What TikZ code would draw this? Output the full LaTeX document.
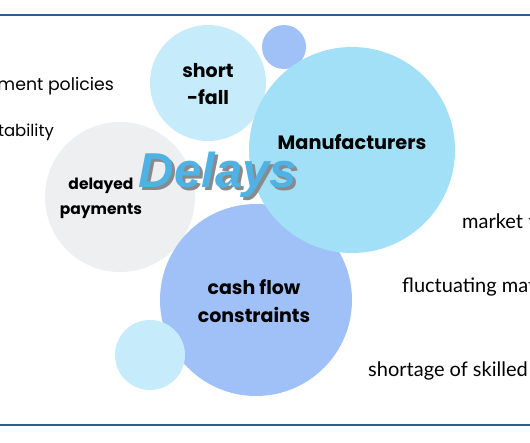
\documentclass[tikz,border=0pt]{standalone}
\usepackage{fontspec}
\setmainfont{Lato}
\newfontfamily\labelfont{Poppins}
\newfontfamily\titlefont{Liberation Sans}
\definecolor{framec}{HTML}{2D5F93}
\definecolor{palec}{HTML}{C6ECFB}
\definecolor{bluec}{HTML}{9FC1F8}
\definecolor{cyanc}{HTML}{A2E0F8}
\definecolor{greyc}{HTML}{EEEFF1}
\definecolor{delc}{HTML}{4FB2E5}
\definecolor{shadc}{HTML}{8A8A8A}
\tikzset{
  bubble/.style={circle, inner sep=0pt, draw=none},
  blabel/.style={font=\labelfont\bfseries, text=black, align=center},
  side/.style={font=\fontsize{20}{24}\selectfont, text=black, inner sep=0pt},
  lside/.style={font=\labelfont\fontsize{16.5}{20}\selectfont, text=black, inner sep=0pt},
  frameline/.style={draw=framec, line width=2.4pt}
}
\begin{document}
\begin{tikzpicture}[x=1pt,y=-1pt]
\useasboundingbox (0,0) rectangle (530,442);
\clip (0,0) rectangle (530,442);
\fill[white] (0,0) rectangle (530,442);
% frame lines
\coordinate (tl) at (0,15); \coordinate (tr) at (530,15);
\coordinate (bl) at (0,425); \coordinate (br) at (530,425);
\draw[frameline] (tl) -- (tr);
\draw[frameline] (bl) -- (br);
% bubbles
\node[bubble, fill=greyc, minimum size=150pt] (grey) at (120,197) {};
\node[bubble, fill=palec, minimum size=116pt] (short) at (208,83) {};
\node[bubble, fill=bluec, minimum size=44pt] (dot) at (284,47) {};
\node[bubble, fill=bluec, minimum size=192pt] (cash) at (256,300) {};
\node[bubble, fill=cyanc, minimum size=206pt] (manu) at (352,150) {};
\node[bubble, fill=palec, minimum size=70pt] (small) at (150,355) {};
% labels
\node[blabel, font=\labelfont\bfseries\fontsize{19}{27}\selectfont] (shortlab) at (208,84) {short\\-fall};
\node[blabel, font=\labelfont\bfseries\fontsize{19.3}{24}\selectfont] (manulab) at (352,142) {Manufacturers};
\node[blabel, font=\labelfont\bfseries\fontsize{15.5}{25}\selectfont] (greylab) at (101,198) {delayed\\payments};
\node[blabel, font=\labelfont\bfseries\fontsize{19}{28}\selectfont] (cashlab) at (254,301) {cash flow\\constraints};
% title with shadow
\node[font=\titlefont\bfseries\itshape\fontsize{49}{50}\selectfont, text=shadc] (delshadow) at (221,178) {Delays};
\node[font=\titlefont\bfseries\itshape\fontsize{49}{50}\selectfont, text=delc] (delays) at (218,175) {Delays};
% side texts
\node[lside, font=\labelfont\fontsize{17.3}{20}\selectfont, anchor=base east] (t1) at (114,90) {ment policies};
\node[lside, anchor=base east] (t2) at (54,136) {tability};
\node[side, anchor=base west] (t3) at (462,228) {market t};
\node[side, anchor=base west] (t4) at (402,292) {fluctuating mat};
\node[side, anchor=base west] (t5) at (368,376) {shortage of skilled l};
\end{tikzpicture}
\end{document}
